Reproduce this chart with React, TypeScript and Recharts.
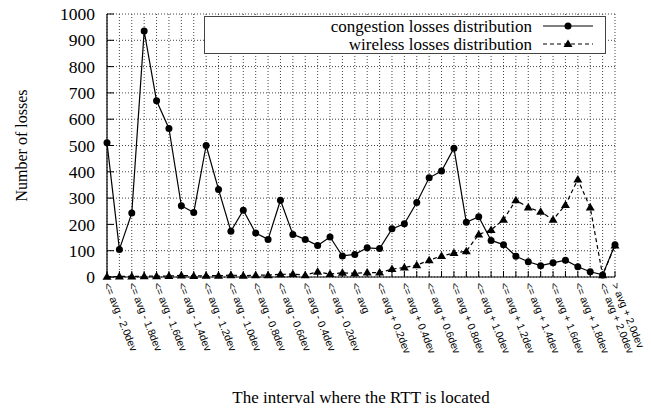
import React from "react";
import {
  CartesianGrid,
  Legend,
  Line,
  LineChart,
  XAxis,
  YAxis,
} from "recharts";

// interval categories, one every 0.1 dev (only every other one is labelled)
const categories = [
  "<= avg - 2.0dev", "<= avg - 1.9dev", "<= avg - 1.8dev", "<= avg - 1.7dev",
  "<= avg - 1.6dev", "<= avg - 1.5dev", "<= avg - 1.4dev", "<= avg - 1.3dev",
  "<= avg - 1.2dev", "<= avg - 1.1dev", "<= avg - 1.0dev", "<= avg - 0.9dev",
  "<= avg - 0.8dev", "<= avg - 0.7dev", "<= avg - 0.6dev", "<= avg - 0.5dev",
  "<= avg - 0.4dev", "<= avg - 0.3dev", "<= avg - 0.2dev", "<= avg - 0.1dev",
  "<= avg", "<= avg + 0.1dev", "<= avg + 0.2dev", "<= avg + 0.3dev",
  "<= avg + 0.4dev", "<= avg + 0.5dev", "<= avg + 0.6dev", "<= avg + 0.7dev",
  "<= avg + 0.8dev", "<= avg + 0.9dev", "<= avg + 1.0dev", "<= avg + 1.1dev",
  "<= avg + 1.2dev", "<= avg + 1.3dev", "<= avg + 1.4dev", "<= avg + 1.5dev",
  "<= avg + 1.6dev", "<= avg + 1.7dev", "<= avg + 1.8dev", "<= avg + 1.9dev",
  "<= avg + 2.0dev", "> avg + 2.0dev",
];

const congestion = [
  510, 105, 243, 935, 670, 565, 271, 245, 500, 333, 174, 254, 167, 143, 292,
  162, 143, 120, 152, 80, 86, 111, 108, 183, 202, 283, 377, 403, 490, 208, 229,
  139, 123, 79, 58, 43, 54, 64, 39, 20, 8, 123,
];

const wireless = [
  1, 2, 2, 3, 3, 4, 6, 4, 5, 5, 7, 5, 7, 7, 10, 11, 7, 20, 11, 16, 14, 17, 17,
  30, 36, 45, 64, 80, 91, 98, 162, 179, 218, 292, 264, 248, 218, 274, 371, 264,
  7, 120,
];

const yTicks = [0, 100, 200, 300, 400, 500, 600, 700, 800, 900, 1000];

const data = categories.map((name, i) => ({
  name,
  congestion: congestion[i],
  wireless: wireless[i],
}));

const SERIF = "'Liberation Serif', 'Times New Roman', serif";
const SANS = "'Liberation Sans', Arial, sans-serif";

const BottomTick = ({ x, y, payload, index }: any) => {
  const showLabel = index % 2 === 0 || index === categories.length - 1;
  return (
    <g>
      <line x1={x} y1={y} x2={x} y2={y - 6} stroke="#000" />
      {showLabel && (
        <text
          x={x}
          y={y + 6}
          transform={`rotate(68 ${x} ${y + 6})`}
          textAnchor="start"
          dy="0.35em"
          fontFamily={SANS}
          fontSize={10.5}
          fill="#000"
        >
          {payload.value}
        </text>
      )}
    </g>
  );
};

const TopTick = ({ x, y }: any) => (
  <line x1={x} y1={y} x2={x} y2={y + 6} stroke="#000" />
);

const LeftTick = ({ x, y, payload }: any) => (
  <g>
    <line x1={x} y1={y} x2={x + 7} y2={y} stroke="#000" />
    <text
      x={x - 12}
      y={y}
      textAnchor="end"
      dy="0.35em"
      fontFamily={SERIF}
      fontSize={17.5}
      fill="#000"
    >
      {payload.value}
    </text>
  </g>
);

const RightTick = ({ x, y }: any) => (
  <line x1={x} y1={y} x2={x - 7} y2={y} stroke="#000" />
);

const TriangleDot = ({ cx, cy }: any) => {
  if (cx == null || cy == null) return null;
  return (
    <path
      d={`M${cx},${cy - 4.5} L${cx + 4.5},${cy + 3} L${cx - 4.5},${cy + 3} Z`}
      fill="#000"
    />
  );
};

const LegendBox = ({ payload }: any) => (
  <svg width={402} height={38} style={{ display: "block" }}>
    <rect x={0.5} y={0.5} width={401} height={37} fill="#fff" stroke="#444" />
    {(payload || []).map((entry: any, i: number) => {
      const cy = 10 + i * 18;
      const dashed = entry.payload?.strokeDasharray;
      return (
        <g key={entry.value}>
          <text
            x={328}
            y={cy}
            dy="0.35em"
            textAnchor="end"
            fontFamily={SERIF}
            fontSize={17}
            fill="#000"
          >
            {entry.value}
          </text>
          <line
            x1={339}
            y1={cy}
            x2={389}
            y2={cy}
            stroke="#000"
            strokeWidth={1.2}
            strokeDasharray={dashed}
          />
          {dashed ? (
            <TriangleDot cx={364} cy={cy} />
          ) : (
            <circle cx={364} cy={cy} r={3.5} fill="#000" />
          )}
        </g>
      );
    })}
  </svg>
);

export default function App() {
  return (
    <div style={{ position: "absolute", left: 0, top: 0, background: "#fff" }}>
      <LineChart
        width={651}
        height={418}
        data={data}
        margin={{ top: 14, right: 36, bottom: 0, left: 0 }}
      >
        <CartesianGrid stroke="#444" strokeDasharray="1 2" />
        <XAxis
          dataKey="name"
          height={141}
          interval={0}
          tickSize={0}
          tickMargin={0}
          tick={<BottomTick />}
          axisLine={{ stroke: "#000", strokeWidth: 1.2 }}
          label={{
            content: ({ viewBox }: any) => (
              <text
                x={viewBox.x + viewBox.width / 2}
                y={viewBox.y + 126}
                textAnchor="middle"
                fontFamily={SERIF}
                fontSize={17}
                fill="#000"
              >
                The interval where the RTT is located
              </text>
            ),
          }}
        />
        <XAxis
          xAxisId="top"
          dataKey="name"
          orientation="top"
          height={0}
          interval={0}
          tickSize={0}
          tickMargin={0}
          tick={<TopTick />}
          axisLine={{ stroke: "#000", strokeWidth: 1.2 }}
        />
        <YAxis
          width={107}
          domain={[0, 1000]}
          ticks={yTicks}
          tickSize={0}
          tickMargin={0}
          tick={<LeftTick />}
          axisLine={{ stroke: "#000", strokeWidth: 1.2 }}
          label={{
            content: ({ viewBox }: any) => {
              const x = viewBox.x + 21;
              const y = viewBox.y + viewBox.height / 2;
              return (
                <text
                  x={x}
                  y={y}
                  transform={`rotate(-90 ${x} ${y})`}
                  textAnchor="middle"
                  dy="0.35em"
                  fontFamily={SERIF}
                  fontSize={16}
                  fill="#000"
                >
                  Number of losses
                </text>
              );
            },
          }}
        />
        <YAxis
          yAxisId="right"
          orientation="right"
          width={0}
          domain={[0, 1000]}
          ticks={yTicks}
          tickSize={0}
          tickMargin={0}
          tick={<RightTick />}
          axisLine={{ stroke: "#000", strokeWidth: 1.2 }}
        />
        <Legend
          layout="horizontal"
          verticalAlign="middle"
          align="center"
          content={<LegendBox />}
          wrapperStyle={{
            position: "absolute",
            left: 204,
            top: 16,
            width: 402,
            height: 38,
          }}
        />
        <Line
          type="linear"
          dataKey="congestion"
          name="congestion losses distribution"
          stroke="#000"
          strokeWidth={1.2}
          dot={{ r: 3.5, fill: "#000", stroke: "#000", strokeWidth: 0 }}
          isAnimationActive={false}
        />
        <Line
          type="linear"
          dataKey="wireless"
          name="wireless losses distribution"
          stroke="#000"
          strokeWidth={1.2}
          strokeDasharray="4 3"
          dot={<TriangleDot />}
          isAnimationActive={false}
        />
      </LineChart>
    </div>
  );
}
